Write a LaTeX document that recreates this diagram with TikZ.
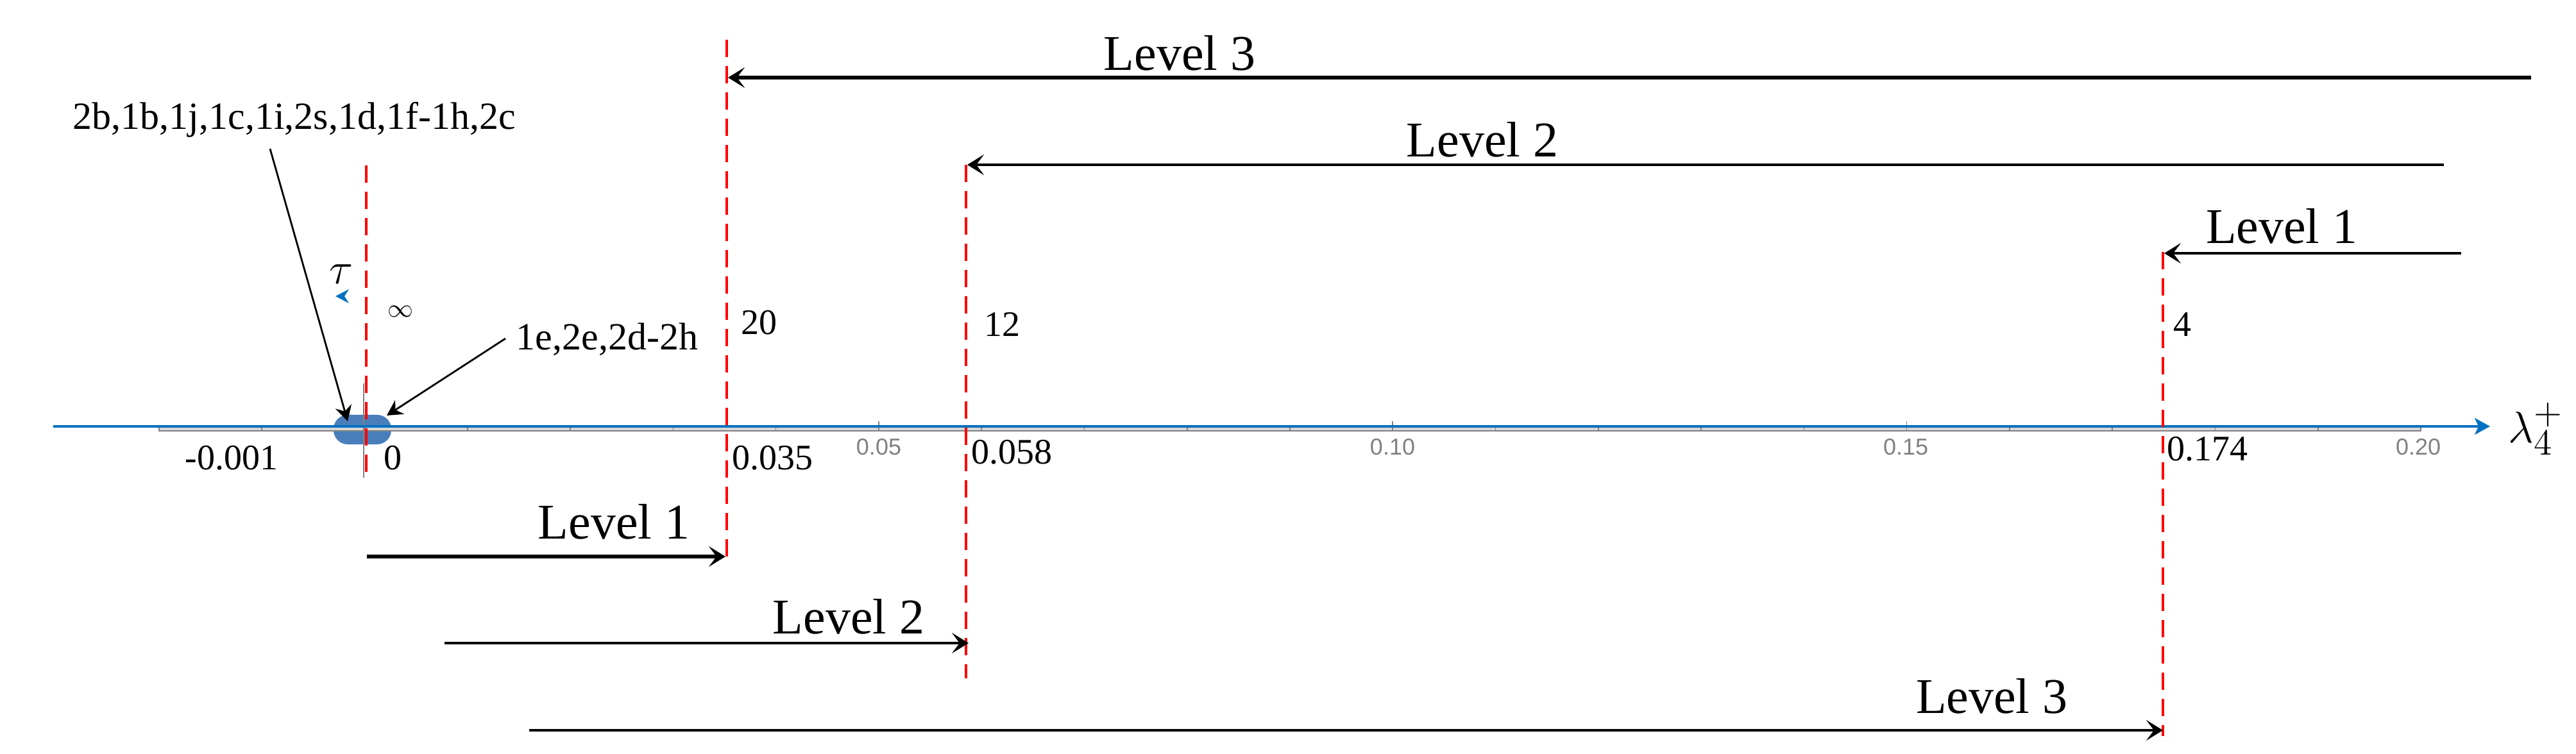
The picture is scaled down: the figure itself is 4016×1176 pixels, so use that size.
\documentclass[tikz,border=0pt]{standalone}
\usepackage{fontspec}
\setmainfont{Liberation Serif}
\newfontfamily\lsans{Liberation Sans}
\usetikzlibrary{arrows.meta}
\definecolor{axisblue}{RGB}{0,112,192}
\definecolor{blobblue}{RGB}{74,126,187}
\definecolor{rulergray}{RGB}{215,215,215}
\definecolor{tickgray}{RGB}{128,128,128}
\begin{document}
\begin{tikzpicture}[x=0.25pt,y=-0.25pt,
  redline/.style={red, line width=1pt, dash pattern=on 6.75pt off 3.5pt},
  lvl/.style={font=\fontsize{19.5}{22}\selectfont, inner sep=0pt, anchor=base},
  thickarr/.style={line width=1.5pt, -{Stealth[length=6.5pt,width=8pt,inset=3pt]}},
  thinarr/.style={line width=1.1pt, -{Stealth[length=6.5pt,width=8pt,inset=3pt]}},
  annarr/.style={line width=0.7pt, -{Stealth[length=6pt,width=6.5pt,inset=2pt]}},
  numlab/.style={font=\fontsize{14}{16}\selectfont, inner sep=0pt, anchor=base west},
  annlab/.style={font=\fontsize{15}{17}\selectfont, inner sep=0pt, anchor=base west},
  ticklab/.style={font=\lsans\fontsize{9}{10}\selectfont, text=tickgray, inner sep=0pt},
]
\useasboundingbox (0,0) rectangle (4016,1176);

% blob at the origin
\fill[blobblue, rounded corners=5.5pt] (520,647) rectangle (610,693);

% grey ruler
\fill[rulergray] (248,665) rectangle (3774,672);
\draw[gray, line width=0.4pt] (248,665) -- (248,672) -- (3774,672) -- (3774,665);
\foreach \i in {1,...,21} {
  \draw[gray, line width=0.4pt] ({248+\i*160.27},666) -- ({248+\i*160.27},672);
}
\foreach \i in {7,12,17} {
  \draw[gray, line width=0.4pt] ({248+\i*160.27},657) -- ({248+\i*160.27},666);
}
\draw[gray, line width=0.5pt] (567,598) -- (567,745);

% axis
\coordinate (axL) at (83,665);
\coordinate (axR) at (3882,665);
\draw[axisblue, line width=0.8pt, -{Stealth[length=6pt,width=6.5pt,inset=1.5pt]}] (axL) -- (axR);
\node[font=\fontsize{19}{22}\selectfont, inner sep=0pt, anchor=base west] (lam) at (3910,690) {$\lambda_4^+$};

% tick labels
\node[ticklab] (t05) at (1370,697) {0.05};
\node[ticklab] (t10) at (2171,697) {0.10};
\node[ticklab] (t15) at (2971,697) {0.15};
\node[ticklab] (t20) at (3770,697) {0.20};

% red dashed threshold lines
\coordinate (r0t) at (571,258);   \coordinate (r0b) at (571,745);
\coordinate (r1t) at (1133,62);   \coordinate (r1b) at (1133,875);
\coordinate (r2t) at (1506,257);  \coordinate (r2b) at (1506,1058);
\coordinate (r3t) at (3372,393);  \coordinate (r3b) at (3372,1148);
\draw[redline] (r0t) -- (r0b);
\draw[redline] (r1t) -- (r1b);
\draw[redline] (r2t) -- (r2b);
\draw[redline] (r3t) -- (r3b);

% value labels
\node[numlab] (n20) at (1155,522) {20};
\node[numlab] (n12) at (1534,525) {12};
\node[numlab] (n4) at (3388,525) {4};
\node[numlab] (nm) at (288,732) {-0.001};
\node[numlab] (n0) at (598,732) {0};
\node[numlab] (n035) at (1141,732) {0.035};
\node[numlab] (n058) at (1514,723) {0.058};
\node[numlab] (n174) at (3378,718) {0.174};

% tau, marker, infinity
\node[font=\fontsize{18}{20}\selectfont, inner sep=0pt, anchor=base] (tau) at (532,443) {$\tau$};
\fill[axisblue] (523,462) -- (544,451) -- (537,462) -- (544,473) -- cycle;
\node[font=\fontsize{10}{12}\selectfont, inner sep=0pt] (inf) at (624,486) {$\infty$};

% top level arrows
\coordinate (a3s) at (3946,121); \coordinate (a3e) at (1135,121);
\coordinate (a2s) at (3810,257); \coordinate (a2e) at (1508,257);
\coordinate (a1s) at (3837,395); \coordinate (a1e) at (3374,395);
\draw[thickarr] (a3s) -- (a3e);
\draw[thinarr] (a2s) -- (a2e);
\draw[thinarr] (a1s) -- (a1e);
\node[lvl] (L3t) at (1839,110) {Level 3};
\node[lvl] (L2t) at (2311,245) {Level 2};
\node[lvl] (L1t) at (3557,380) {Level 1};

% bottom level arrows
\coordinate (b1s) at (572,868);  \coordinate (b1e) at (1131,868);
\coordinate (b2s) at (693,1003); \coordinate (b2e) at (1510,1003);
\coordinate (b3s) at (825,1139); \coordinate (b3e) at (3372,1139);
\draw[thickarr] (b1s) -- (b1e);
\draw[thinarr] (b2s) -- (b2e);
\draw[thinarr] (b3s) -- (b3e);
\node[lvl] (L1b) at (957,840) {Level 1};
\node[lvl] (L2b) at (1323,988) {Level 2};
\node[lvl] (L3b) at (3105,1112) {Level 3};

% annotations
\node[annlab] (ann1) at (113,202) {2b,1b,1j,1c,1i,2s,1d,1f-1h,2c};
\node[annlab] (ann2) at (804,546) {1e,2e,2d-2h};
\coordinate (p1s) at (421,232); \coordinate (p1e) at (542,657);
\coordinate (p2s) at (788,528); \coordinate (p2e) at (603,648);
\draw[annarr] (p1s) -- (p1e);
\draw[annarr] (p2s) -- (p2e);
\end{tikzpicture}
\end{document}
